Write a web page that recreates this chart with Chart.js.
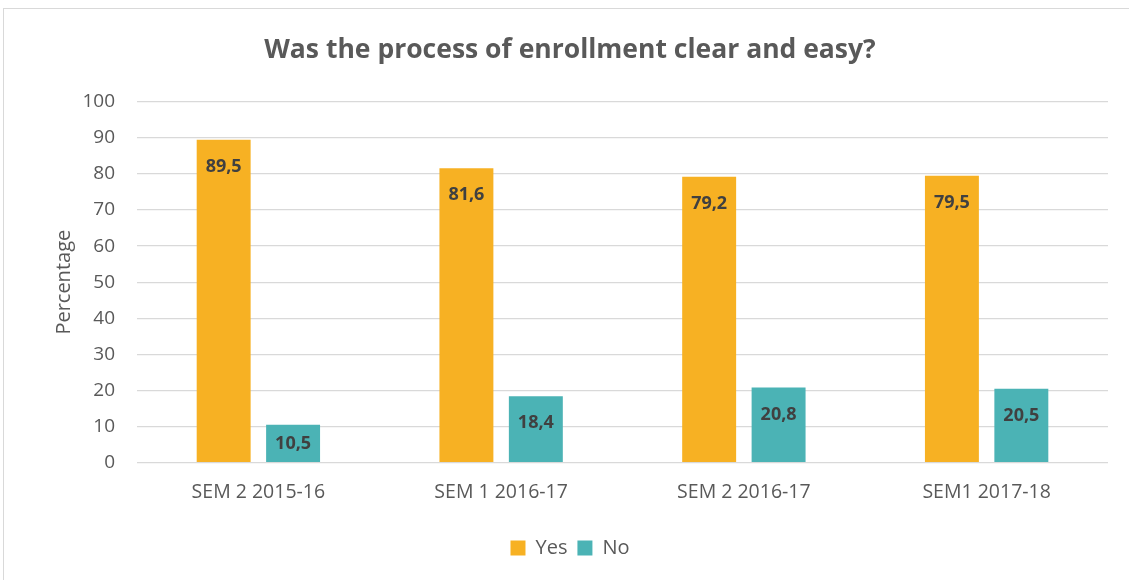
<!DOCTYPE html>
<html>
<head>
<meta charset="utf-8">
<script src="https://cdn.jsdelivr.net/npm/chart.js@4/dist/chart.umd.min.js"></script>
<style>
    html, body { margin: 0; padding: 0; background: #ffffff; }
    #frame {
        position: absolute; left: 3px; top: 8px; width: 1130px; height: 575px;
        border: 1px solid #d9d9d9; box-sizing: border-box;
    }
    #wrap { position: absolute; left: 0; top: 0; width: 1129px; height: 580px; }
</style>
</head>
<body>
<div id="frame"></div>
<div id="wrap"><canvas id="enrollChart"></canvas></div>
<script>
// Chart data
const categories = ['SEM 2 2015-16', 'SEM 1 2016-17', 'SEM 2 2016-17', 'SEM1 2017-18'];
const yesValues = [89.5, 81.6, 79.2, 79.5];
const noValues = [10.5, 18.4, 20.8, 20.5];
const yTicks = [0, 10, 20, 30, 40, 50, 60, 70, 80, 90, 100];

const FONT = "'Open Sans', sans-serif";
const GREY = '#595959';

// Value labels inside the top of each bar, comma decimals; short bars get the label centred
const barLabels = {
    id: 'barLabels',
    afterDatasetsDraw(chart) {
        const ctx = chart.ctx;
        ctx.save();
        ctx.font = `bold 18px ${FONT}`;
        ctx.fillStyle = '#404040';
        ctx.textAlign = 'center';
        ctx.textBaseline = 'middle';
        chart.data.datasets.forEach((ds, i) => {
            chart.getDatasetMeta(i).data.forEach((bar, j) => {
                const text = ds.data[j].toFixed(1).replace('.', ',');
                const y = Math.min(bar.y + 27, (bar.y + bar.base) / 2 + 1);
                ctx.fillText(text, bar.x, y);
            });
        });
        ctx.restore();
    }
};

new Chart(document.getElementById('enrollChart'), {
    type: 'bar',
    data: {
        labels: categories,
        datasets: [
            { label: 'Yes', data: yesValues, backgroundColor: '#f7b123' },
            { label: 'No', data: noValues, backgroundColor: '#4bb3b5' }
        ]
    },
    options: {
        responsive: true,
        maintainAspectRatio: false,
        animation: false,
        categoryPercentage: 0.572,
        barPercentage: 0.777,
        layout: { padding: { left: 32, right: 21, top: 20, bottom: 12 } },
        plugins: {
            title: {
                display: true,
                text: 'Was the process of enrollment clear and easy?',
                color: GREY,
                font: { family: FONT, size: 26.5, weight: 'bold' },
                padding: { top: 15, bottom: 35 }
            },
            legend: {
                position: 'bottom',
                labels: {
                    color: GREY,
                    font: { family: FONT, size: 20 },
                    boxWidth: 15,
                    boxHeight: 15,
                    padding: 10
                }
            },
            tooltip: { enabled: false }
        },
        scales: {
            x: {
                grid: { display: false },
                border: { display: false },
                afterFit: axis => { axis.height += 14; },
                ticks: { color: GREY, font: { family: FONT, size: 19.5 }, padding: 10 }
            },
            y: {
                min: 0,
                max: 100,
                afterBuildTicks: axis => { axis.ticks = yTicks.map(v => ({ value: v })); },
                afterFit: axis => { axis.width = 105; },
                grid: { color: '#d9d9d9', lineWidth: 1.3, drawTicks: false },
                border: { display: false },
                ticks: { color: GREY, font: { family: FONT, size: 19 }, padding: 22 },
                title: {
                    display: true,
                    text: 'Percentage',
                    color: GREY,
                    font: { family: FONT, size: 20 },
                    padding: { top: 20, bottom: 4 }
                }
            }
        }
    },
    plugins: [barLabels]
});
</script>
</body>
</html>
